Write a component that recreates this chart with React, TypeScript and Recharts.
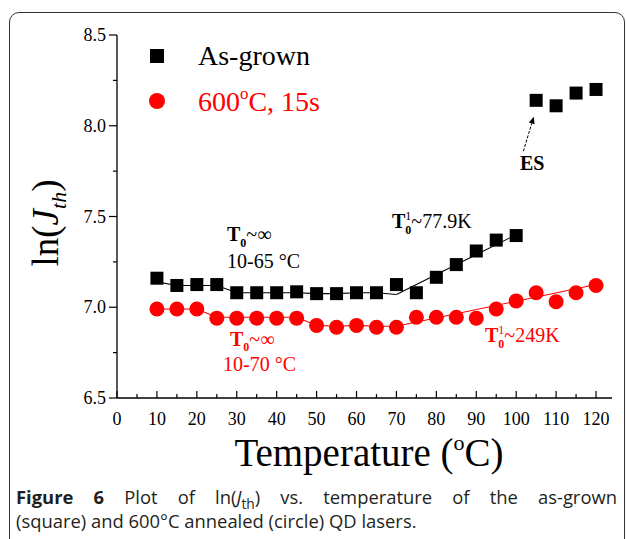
import {
  ComposedChart,
  Legend,
  Line,
  ReferenceLine,
  Scatter,
  XAxis,
  YAxis,
} from "recharts";

const SERIF = '"Liberation Serif", "Times New Roman", serif';
const SANS = '"Open Sans", "Noto Sans", sans-serif';
const BLACK = "#000000";
const RED = "#ff0000";

const AS_GROWN = "As-grown";
const ANNEALED = "600°C, 15s";

// ln(Jth) por temperatura (°C)
const temperatures = [
  10, 15, 20, 25, 30, 35, 40, 45, 50, 55, 60, 65, 70, 75, 80, 85, 90, 95, 100,
  105, 110, 115, 120,
];
const asGrown = [
  7.16, 7.12, 7.125, 7.125, 7.08, 7.08, 7.08, 7.085, 7.075, 7.075, 7.08, 7.08,
  7.125, 7.08, 7.165, 7.235, 7.31, 7.37, 7.395, 8.14, 8.11, 8.18, 8.2,
];
const annealed = [
  6.99, 6.99, 6.99, 6.94, 6.94, 6.94, 6.94, 6.94, 6.9, 6.89, 6.9, 6.89, 6.89,
  6.945, 6.945, 6.945, 6.94, 6.99, 7.035, 7.08, 7.03, 7.08, 7.12,
];

// curvas de ajuste (T0 ~ inf abaixo de 70 °C, T0^1 acima)
const lowFitTemperatures = [10, 15, 20, 25, 30, 35, 40, 45, 50, 55, 60, 65, 70];
const asGrownLowFit = [
  7.14, 7.12, 7.12, 7.12, 7.08, 7.08, 7.08, 7.08, 7.075, 7.075, 7.08, 7.08, 7.07,
];
const annealedLowFit = [
  6.99, 6.99, 6.99, 6.945, 6.945, 6.945, 6.945, 6.945, 6.9, 6.895, 6.9, 6.895,
  6.895,
];
const asGrownHighFitTemperatures = [70, 100];
const asGrownHighFit = [7.07, 7.4];
const annealedHighFitTemperatures = [70, 120];
const annealedHighFit = [6.895, 7.125];

// seta "ES"
const esArrowTemperatures = [101.8, 104.4];
const esArrowValues = [7.86, 8.05];

const xTicks = [
  0, 5, 10, 15, 20, 25, 30, 35, 40, 45, 50, 55, 60, 65, 70, 75, 80, 85, 90, 95,
  100, 105, 110, 115, 120,
];
const yTicks = [6.5, 6.75, 7.0, 7.25, 7.5, 7.75, 8.0, 8.25, 8.5];

const toPoints = (xs: number[], ys: number[]) =>
  xs.map((x, i) => ({ x, y: ys[i] }));

function XTick(props: any) {
  const { x, y, payload } = props;
  const v = payload.value as number;
  const major = v % 10 === 0;
  return (
    <g>
      <line x1={x} x2={x} y1={y} y2={y - (major ? 7 : 4)} stroke={BLACK} strokeWidth={1.2} />
      {major && (
        <text x={x} y={y + 27} textAnchor="middle" fontFamily={SERIF} fontSize={18} fill={BLACK}>
          {v}
        </text>
      )}
    </g>
  );
}

function YTick(props: any) {
  const { x, y, payload } = props;
  const v = payload.value as number;
  const major = Math.abs(v * 2 - Math.round(v * 2)) < 1e-6;
  return (
    <g>
      <line x1={x - (major ? 8 : 4)} x2={x} y1={y} y2={y} stroke={BLACK} strokeWidth={1.2} />
      {major && (
        <text x={x - 11} y={y + 6} textAnchor="end" fontFamily={SERIF} fontSize={18} fill={BLACK}>
          {v.toFixed(1)}
        </text>
      )}
    </g>
  );
}

function SquareMark(props: any) {
  const { cx, cy, fill } = props;
  return <rect x={cx - 6.5} y={cy - 6.5} width={13} height={13} fill={fill} />;
}

function CircleMark(props: any) {
  const { cx, cy, fill } = props;
  return <circle cx={cx} cy={cy} r={7.5} fill={fill} />;
}

function ArrowShape(props: any) {
  const { x1, y1, x2, y2 } = props;
  const ang = Math.atan2(y2 - y1, x2 - x1);
  const len = 7;
  const w = 3;
  const bx = x2 - len * Math.cos(ang);
  const by = y2 - len * Math.sin(ang);
  const px = -Math.sin(ang) * w;
  const py = Math.cos(ang) * w;
  return (
    <g>
      <line x1={x1} y1={y1} x2={bx} y2={by} stroke={BLACK} strokeWidth={1} strokeDasharray="3 1.5" />
      <polygon points={`${x2},${y2} ${bx + px},${by + py} ${bx - px},${by - py}`} fill={BLACK} />
    </g>
  );
}

function withDegree(label: string) {
  const parts = label.split("°");
  if (parts.length === 1) return label;
  return (
    <>
      {parts[0]}
      <sup style={{ fontSize: "0.6em", verticalAlign: "0.7em" }}>o</sup>
      {parts[1]}
    </>
  );
}

const legendOrder = [AS_GROWN, ANNEALED];

function LegendContent({ payload }: { payload?: any[] }) {
  const items = (payload ?? [])
    .filter((entry) => entry.type !== "none" && legendOrder.includes(entry.value))
    .sort((a, b) => legendOrder.indexOf(a.value) - legendOrder.indexOf(b.value));
  return (
    <div style={{ fontFamily: SERIF, fontSize: 28 }}>
      {items.map((entry) => (
        <div
          key={entry.value}
          style={{ display: "flex", alignItems: "center", height: 45, color: entry.color }}
        >
          <svg width={20} height={20}>
            {entry.type === "square" ? (
              <rect x={3} y={3} width={14} height={14} fill={entry.color} />
            ) : (
              <circle cx={10} cy={10} r={8} fill={entry.color} />
            )}
          </svg>
          <span style={{ marginLeft: 31, whiteSpace: "nowrap" }}>{withDegree(entry.value)}</span>
        </div>
      ))}
    </div>
  );
}

export default function App() {
  return (
    <div
      style={{
        position: "absolute",
        left: 0,
        top: 0,
        width: 627,
        height: 539,
        overflow: "hidden",
        background: "#fff",
      }}
    >
      <div
        style={{
          position: "absolute",
          left: 9,
          top: 12,
          width: 616,
          height: 620,
          border: "1.5px solid #333",
          borderRadius: 10,
          boxSizing: "border-box",
        }}
      />
      <div style={{ position: "absolute", left: 0, top: 0 }}>
        <ComposedChart
          width={627}
          height={539}
          margin={{ top: 35, right: 15, bottom: 111, left: 57 }}
        >
          <XAxis
            type="number"
            dataKey="x"
            domain={[0, 124]}
            ticks={xTicks}
            interval={0}
            allowDataOverflow
            tickLine={false}
            tickSize={0}
            tickMargin={0}
            tick={(p: any) => <XTick {...p} />}
            axisLine={{ stroke: BLACK, strokeWidth: 1.3 }}
            height={30}
          />
          <XAxis
            xAxisId="top"
            orientation="top"
            type="number"
            dataKey="x"
            domain={[0, 124]}
            tick={false}
            tickLine={false}
            axisLine={{ stroke: BLACK, strokeWidth: 1.3 }}
            height={0}
          />
          <YAxis
            type="number"
            dataKey="y"
            domain={[6.5, 8.5]}
            ticks={yTicks}
            interval={0}
            allowDataOverflow
            tickLine={false}
            tickSize={0}
            tickMargin={0}
            tick={(p: any) => <YTick {...p} />}
            axisLine={{ stroke: BLACK, strokeWidth: 1.3 }}
            width={60}
          />
          <YAxis
            yAxisId="right"
            orientation="right"
            type="number"
            domain={[6.5, 8.5]}
            tick={false}
            tickLine={false}
            axisLine={{ stroke: BLACK, strokeWidth: 1.3 }}
            width={0}
          />
          <Legend
            layout="vertical"
            align="center"
            verticalAlign="middle"
            content={<LegendContent />}
            wrapperStyle={{ left: 147, top: 33, width: 240 }}
          />

          <Line
            data={toPoints(lowFitTemperatures, asGrownLowFit)}
            dataKey="y"
            type="linear"
            stroke={BLACK}
            strokeWidth={1.1}
            dot={false}
            activeDot={false}
            legendType="none"
            isAnimationActive={false}
          />
          <Line
            data={toPoints(asGrownHighFitTemperatures, asGrownHighFit)}
            dataKey="y"
            type="linear"
            stroke={BLACK}
            strokeWidth={1.1}
            dot={false}
            activeDot={false}
            legendType="none"
            isAnimationActive={false}
          />
          <Line
            data={toPoints(lowFitTemperatures, annealedLowFit)}
            dataKey="y"
            type="linear"
            stroke={RED}
            strokeWidth={1.1}
            dot={false}
            activeDot={false}
            legendType="none"
            isAnimationActive={false}
          />
          <Line
            data={toPoints(annealedHighFitTemperatures, annealedHighFit)}
            dataKey="y"
            type="linear"
            stroke={RED}
            strokeWidth={1.1}
            dot={false}
            activeDot={false}
            legendType="none"
            isAnimationActive={false}
          />

          <Scatter
            name={AS_GROWN}
            data={toPoints(temperatures, asGrown)}
            dataKey="y"
            fill={BLACK}
            legendType="square"
            shape={(p: any) => <SquareMark {...p} />}
            isAnimationActive={false}
          />
          <Scatter
            name={ANNEALED}
            data={toPoints(temperatures, annealed)}
            dataKey="y"
            fill={RED}
            legendType="circle"
            shape={(p: any) => <CircleMark {...p} />}
            isAnimationActive={false}
          />

          <ReferenceLine
            segment={toPoints(esArrowTemperatures, esArrowValues)}
            shape={(p: any) => <ArrowShape {...p} />}
          />
        </ComposedChart>
      </div>

      {/* títulos dos eixos e anotações */}
      <svg
        width={627}
        height={539}
        style={{ position: "absolute", left: 0, top: 0, pointerEvents: "none" }}
        fontFamily={SERIF}
      >
        <text
          transform="translate(58 223) rotate(-90)"
          textAnchor="middle"
          fontSize={37}
          fill={BLACK}
        >
          ln(<tspan fontStyle="italic">J</tspan>
          <tspan fontStyle="italic" fontSize={22} dy={8}>th</tspan>
          <tspan dy={-8}>)</tspan>
        </text>
        <text x={369} y={466} textAnchor="middle" fontSize={39} fill={BLACK}>
          Temperature (<tspan fontSize={22} dy={-16}>o</tspan>
          <tspan dy={16}>C)</tspan>
        </text>

        <text x={227} y={241} fontSize={20} fill={BLACK}>
          <tspan fontWeight="bold">T</tspan>
          <tspan fontWeight="bold" fontSize={12} dy={6}>0</tspan>
          <tspan dy={-6}>~∞</tspan>
        </text>
        <text x={227} y={268} fontSize={20} fill={BLACK}>
          10-65 °C
        </text>
        <text x={392} y={228} fontSize={20} fill={BLACK}>
          <tspan fontWeight="bold">T</tspan>
          <tspan fontSize={12} dy={-8}>1</tspan>
          <tspan fontWeight="bold" fontSize={12} dx={-6} dy={14}>0</tspan>
          <tspan dy={-6}>~77.9K</tspan>
        </text>
        <text x={520} y={170} fontSize={20} fontWeight="bold" fill={BLACK}>
          ES
        </text>

        <text x={230} y={346} fontSize={20} fill={RED}>
          <tspan fontWeight="bold">T</tspan>
          <tspan fontWeight="bold" fontSize={12} dy={5}>0</tspan>
          <tspan dy={-5}>~∞</tspan>
        </text>
        <text x={223} y={371} fontSize={20} fill={RED}>
          10-70 °C
        </text>
        <text x={485} y={342} fontSize={20} fill={RED}>
          <tspan fontWeight="bold">T</tspan>
          <tspan fontSize={12} dy={-8}>1</tspan>
          <tspan fontWeight="bold" fontSize={12} dx={-6} dy={14}>0</tspan>
          <tspan dy={-6}>~249K</tspan>
        </text>
      </svg>

      {/* legenda da figura */}
      <div
        style={{
          position: "absolute",
          left: 16,
          top: 485,
          width: 601,
          fontFamily: SANS,
          fontSize: 18.4,
          lineHeight: "24px",
          color: "#231f20",
        }}
      >
        <div style={{ textAlign: "justify", textAlignLast: "justify", whiteSpace: "nowrap" as any }}>
          <b>Figure 6</b> Plot of ln(<i>J</i>
          <sub style={{ fontSize: "0.75em", lineHeight: 0 }}>th</sub>) vs. temperature of the as-grown
        </div>
        <div>(square) and 600°C annealed (circle) QD lasers.</div>
      </div>
    </div>
  );
}
